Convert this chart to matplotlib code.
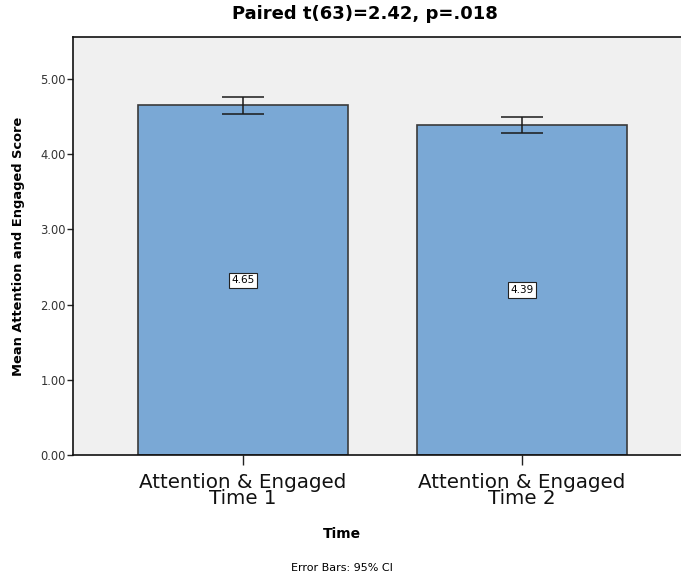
import matplotlib.pyplot as plt

# Paired means with 95% confidence intervals
categories = ['Attention & Engaged\nTime 1', 'Attention & Engaged\nTime 2']
means = [4.65, 4.39]
ci_low = [4.54, 4.28]
ci_high = [4.76, 4.50]

plt.rcParams.update({
    'font.family': 'DejaVu Sans',
})

fig = plt.figure(figsize=(6.81, 5.75), dpi=100)
ax = fig.add_axes([73 / 681, 120 / 575, 618 / 681, 418 / 575])
ax.set_facecolor('#f0f0f0')

x = list(range(len(categories)))
bars = ax.bar(x, means, width=0.753, color='#7aa8d5', edgecolor='#3a3a3a',
              linewidth=1.2, zorder=2)

yerr = [[m - lo for m, lo in zip(means, ci_low)],
        [hi - m for m, hi in zip(means, ci_high)]]
ax.errorbar(x, means, yerr=yerr, fmt='none', ecolor='#1a1a1a',
            elinewidth=1.1, capsize=15, capthick=1.1, zorder=3)

# Value labels at mid-height of each bar
for xi, m in zip(x, means):
    ax.text(xi, m / 2, f'{m:.2f}', ha='center', va='center', fontsize=7.5,
            bbox=dict(boxstyle='square,pad=0.25', facecolor='white',
                      edgecolor='#222222', linewidth=0.8), zorder=4)

ax.set_xlim(-0.609, 1.606)
ax.set_ylim(0, 5.559)
ax.set_yticks([0, 1, 2, 3, 4, 5])
ax.set_yticklabels([f'{v:.2f}' for v in [0, 1, 2, 3, 4, 5]], fontsize=8.3,
                   color='#333333')
ax.set_xticks(x)
ax.set_xticklabels(categories, fontsize=14.3, linespacing=0.82, color='#111111')
ax.tick_params(axis='y', length=4, width=1, color='#222222', pad=1)
ax.tick_params(axis='x', length=7, width=1, color='#222222', pad=6)

for side in ['left', 'bottom', 'top']:
    ax.spines[side].set_linewidth(1.2)
    ax.spines[side].set_color('#111111')
ax.spines['right'].set_visible(False)

ax.set_ylabel('Mean Attention and Engaged Score', fontsize=9.4,
              fontweight='bold')
ax.yaxis.set_label_coords(-0.078, 0.5)
fig.text(365 / 681, 1 - 14 / 575, 'Paired t(63)=2.42, p=.018', ha='center',
         va='center', fontsize=13, fontweight='bold')
fig.text(342 / 681, 1 - 534 / 575, 'Time', ha='center', va='center',
         fontsize=10, fontweight='bold')
fig.text(342 / 681, 1 - 568 / 575, 'Error Bars: 95% CI', ha='center',
         va='center', fontsize=8)

fig.savefig('out.png', dpi=100, facecolor='white')
